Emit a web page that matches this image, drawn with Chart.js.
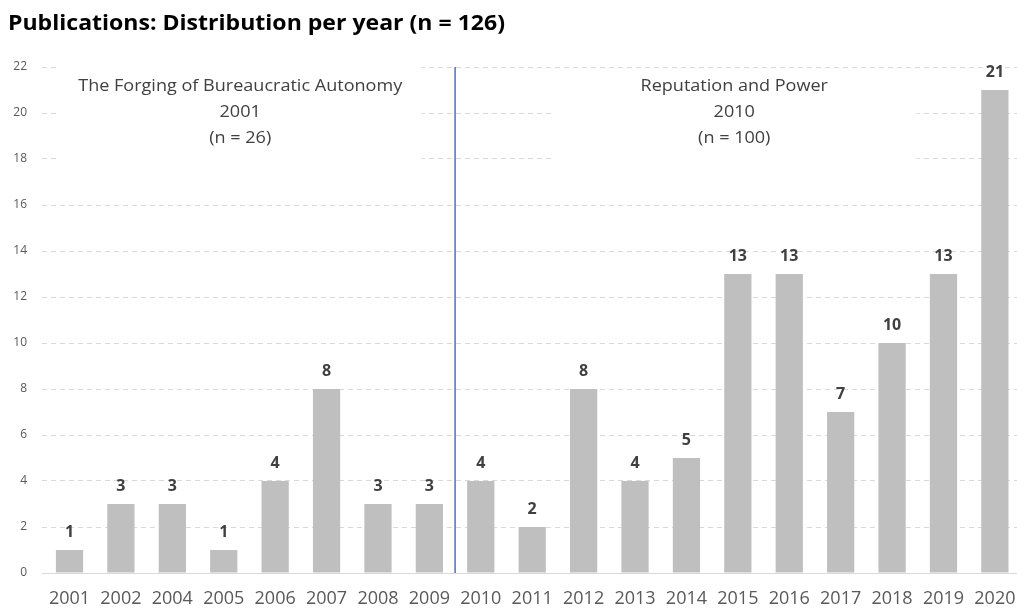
<!DOCTYPE html>
<html>
<head>
<meta charset="utf-8">
<script src="https://cdn.jsdelivr.net/npm/chart.js@4"></script>
<style>
  html, body { margin: 0; padding: 0; background: #fff; overflow: hidden; }
  canvas { display: block; }
</style>
</head>
<body>
<canvas id="chart" width="1017" height="609"></canvas>
<script>
const years = ["2001", "2002", "2004", "2005", "2006", "2007", "2008", "2009", "2010",
  "2011", "2012", "2013", "2014", "2015", "2016", "2017", "2018", "2019", "2020"];
const counts = [1, 3, 3, 1, 4, 8, 3, 3, 4, 2, 8, 4, 5, 13, 13, 7, 10, 13, 21];
const yTicks = [0, 2, 4, 6, 8, 10, 12, 14, 16, 18, 20, 22];
const leftNote = ["The Forging of Bureaucratic Autonomy", "2001", "(n = 26)"];
const rightNote = ["Reputation and Power", "2010", "(n = 100)"];
const titleText = "Publications: Distribution per year (n = 126)";

const FONT = '"Open Sans", Lato, sans-serif';

// text boxes: x in category units, y in value units, box offsets in px
const notes = [
  { lines: leftNote, x: 3.32, y: 21.17, box: [-181, -24, 362, 103] },
  { lines: rightNote, x: 12.93, y: 21.17, box: [-183, -14, 365, 93] }
];

// the original is a little stretched sideways
function wideText(ctx, text, x, y, sx) {
  ctx.save();
  ctx.translate(x, y);
  ctx.scale(sx, 1);
  ctx.fillText(text, 0, 0);
  ctx.restore();
}

const notesPlugin = {
  id: "notes",
  beforeDatasetsDraw(chart) {
    const { ctx, scales: { x, y } } = chart;
    ctx.save();
    ctx.fillStyle = "#fff";
    notes.forEach(n => {
      const cx = x.getPixelForValue(n.x);
      const cy = y.getPixelForValue(n.y);
      ctx.fillRect(cx + n.box[0], cy + n.box[1], n.box[2], n.box[3]);
    });
    ctx.restore();
  },
  afterDatasetsDraw(chart) {
    const { ctx, chartArea, scales: { x, y } } = chart;
    ctx.save();

    // notes text
    ctx.font = "16px " + FONT;
    ctx.fillStyle = "#404040";
    ctx.textAlign = "center";
    ctx.textBaseline = "middle";
    const sx = 324 / ctx.measureText(leftNote[0]).width;
    notes.forEach(n => {
      const cx = x.getPixelForValue(n.x);
      const cy = y.getPixelForValue(n.y);
      n.lines.forEach((t, i) => wideText(ctx, t, cx, cy + i * 26, sx));
    });

    // divider between the two books
    const lx = x.getPixelForValue(7.5);
    ctx.strokeStyle = "#4472C4";
    ctx.lineWidth = 1.5;
    ctx.beginPath();
    ctx.moveTo(lx, chartArea.top);
    ctx.lineTo(lx, chartArea.bottom);
    ctx.stroke();

    // value labels
    ctx.font = "bold 16px " + FONT;
    ctx.fillStyle = "#404040";
    chart.getDatasetMeta(0).data.forEach((bar, i) => {
      ctx.fillText(String(counts[i]), bar.x, bar.y - 18);
    });

    // title
    ctx.font = "bold 21px " + FONT;
    ctx.fillStyle = "#000";
    ctx.textAlign = "left";
    wideText(ctx, titleText, 8, 24, 497 / ctx.measureText(titleText).width);
    ctx.restore();
  }
};

new Chart(document.getElementById("chart"), {
  type: "bar",
  data: {
    datasets: [{
      data: counts.map((v, i) => ({ x: i, y: v })),
      backgroundColor: "#bfbfbf",
      barPercentage: 0.53,
      categoryPercentage: 1
    }]
  },
  options: {
    responsive: false,
    animation: false,
    devicePixelRatio: 1,
    layout: { padding: { top: 67, left: 0, right: 0, bottom: 0 } },
    plugins: { legend: { display: false }, tooltip: { enabled: false } },
    scales: {
      x: {
        type: "linear",
        offset: false,
        min: -0.535,
        max: 18.43,
        grid: { display: false },
        border: { display: true, color: "#d9d9d9", width: 1 },
        afterBuildTicks: s => { s.ticks = years.map((_, i) => ({ value: i })); },
        afterFit: s => { s.height = 36; s.paddingLeft = 0; s.paddingRight = 0; },
        ticks: {
          autoSkip: false,
          maxRotation: 0,
          padding: 7,
          color: "#595959",
          font: { family: FONT, size: 18 },
          callback: v => years[v]
        }
      },
      y: {
        min: 0,
        max: 22,
        afterBuildTicks: s => { s.ticks = yTicks.map(v => ({ value: v })); },
        afterFit: s => { s.width = 42; },
        grid: { color: "#d9d9d9", lineWidth: 1, drawTicks: false },
        border: { display: false, dash: [5, 4] },
        ticks: {
          padding: 15,
          color: "#595959",
          font: { family: FONT, size: 12 }
        }
      }
    }
  },
  plugins: [notesPlugin]
});
</script>
</body>
</html>
